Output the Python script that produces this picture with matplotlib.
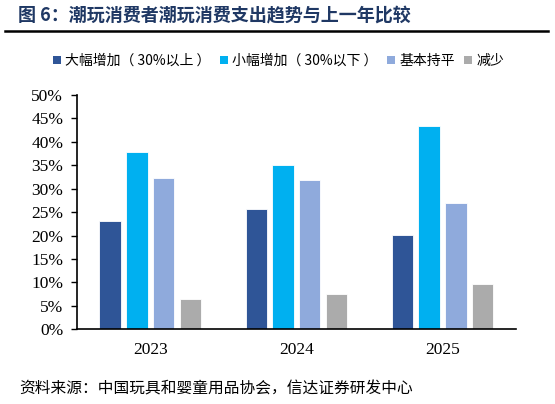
import matplotlib
matplotlib.use("Agg")
import matplotlib.pyplot as plt
import numpy as np
from matplotlib.patches import Patch
from matplotlib.lines import Line2D

plt.rcParams["font.family"] = ["Noto Sans CJK SC", "DejaVu Sans"]

years = ["2023", "2024", "2025"]
series_names = ["大幅增加（ 30%以上 ）", "小幅增加（ 30%以下 ）", "基本持平", "减少"]
big_up = [23.1, 25.6, 20.1]
small_up = [37.9, 35.1, 43.3]
flat = [32.2, 31.8, 27.0]
down = [6.5, 7.6, 9.6]
yticks = list(range(0, 51, 5))

colors = ["#2F5597", "#00B0F0", "#8FAADC", "#ABABAB"]
series = [big_up, small_up, flat, down]

fig = plt.figure(figsize=(5.55, 4.04), dpi=100)
ax = fig.add_axes([0.139, 0.185, 0.790, 0.580])

x = np.arange(len(years))
step = 0.183
width = 0.146
for i, (vals, c) in enumerate(zip(series, colors)):
    ax.bar(x + (i - 1.5) * step, vals, width=width, color=c,
           edgecolor="white", linewidth=0.6)

ax.set_xlim(-0.5, 2.5)
ax.set_ylim(0, 50)
ax.set_yticks(yticks)
ax.set_yticklabels([f"{v}%" for v in yticks], family="Liberation Serif", fontsize=12.5)
ax.set_xticks(x)
ax.set_xticklabels(years, family="Liberation Serif", fontsize=12.5)
ax.tick_params(axis="x", length=0, pad=9)
ax.tick_params(axis="y", length=4, width=1, direction="out", pad=6)
for s in ["top", "right"]:
    ax.spines[s].set_visible(False)
ax.spines["left"].set_linewidth(1.2)
ax.spines["bottom"].set_linewidth(1.2)

handles = [Patch(facecolor=c, edgecolor="none") for c in colors]
fig.legend(handles, series_names, loc="center", bbox_to_anchor=(0.502, 1 - 61 / 404),
           ncol=4, frameon=False, fontsize=10, handlelength=0.55, handleheight=0.55,
           handletextpad=0.3, columnspacing=0.7, borderaxespad=0)

fig.text(18 / 555, 1 - 16 / 404, "图 6：潮玩消费者潮玩消费支出趋势与上一年比较",
         fontsize=13, fontweight="bold", color="#1F3864", va="center", ha="left")
fig.add_artist(Line2D([5 / 555, 548 / 555], [1 - 31 / 404, 1 - 31 / 404],
                      color="black", linewidth=1.8, transform=fig.transFigure))
fig.text(19 / 555, 1 - 389 / 404, "资料来源：中国玩具和婴童用品协会，信达证券研发中心",
         fontsize=11.3, color="black", va="center", ha="left")

fig.savefig("out.png", dpi=100)
